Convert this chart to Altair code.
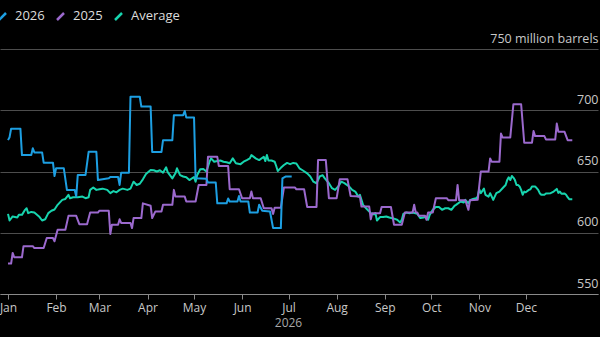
import altair as alt
import pandas as pd

# Day-of-year offsets (0 = Jan 1) and stock levels, million barrels
days_2026 = [0, 1, 2, 8, 9, 15, 16, 17, 22, 23, 29, 30, 31, 36, 38, 43, 44, 45, 50, 52,
             57, 58, 65, 66, 71, 72, 73, 78, 79, 85, 86, 92, 93, 99, 100, 106, 107, 113, 114, 115,
             120, 121, 128, 129, 134, 135, 141, 142, 143, 148, 149, 150, 155, 156, 161, 162, 164, 169, 171, 176,
             177, 179, 183]
vals_2026 = [675.6, 678, 685, 685, 663.4, 663.4, 669, 665.6, 665.6, 657.2, 657.2, 646.3, 652.6, 652.6, 635, 635, 629.5, 647.2, 647.2, 666.1,
             666.1, 643, 644.4, 645.5, 645.5, 639, 649, 649, 711, 711, 703, 703, 666, 666, 675.6, 675.6, 696, 696, 699.4, 694,
             694, 644.4, 644, 641, 641, 624, 624, 628, 625.5, 625.5, 630, 625.5, 625.5, 616.5, 616.5, 622.8, 618, 617.3, 603.8, 603.8,
             644.4, 645.9, 645.9]

days_2025 = [0, 2, 3, 4, 9, 10, 16, 17, 23, 25, 29, 30, 32, 37, 39, 44, 46, 51, 53, 58,
             59, 65, 66, 67, 71, 72, 73, 79, 80, 81, 86, 87, 92, 93, 95, 99, 100, 106, 107, 108,
             114, 115, 121, 123, 128, 129, 135, 136, 142, 143, 149, 151, 156, 157, 158, 163, 165, 170, 171, 172,
             176, 178, 185, 186, 191, 193, 199, 200, 205, 207, 212, 214, 219, 221, 227, 228, 233, 234, 235, 240,
             241, 247, 249, 254, 256, 261, 262, 263, 264, 265, 269, 270, 271, 274, 276, 283, 284, 289, 290, 291,
             295, 297, 298, 303, 305, 310, 311, 312, 317, 318, 319, 324, 326, 331, 333, 338, 339, 340, 346, 347,
             353, 354, 355, 359, 361, 364]
vals_2025 = [574.8, 574.8, 583.5, 580, 580, 589, 589, 587.5, 587.5, 595.7, 595.7, 593, 602.4, 602.4, 613.8, 613.8, 607, 607, 616.5, 616.5,
             618, 618, 599, 606.5, 606.5, 611, 608, 608, 603.8, 612, 612, 624, 622, 612, 617.3, 617.3, 622.8, 622.8, 635, 629.5,
             629.5, 625.5, 625.5, 639, 639, 662, 662, 654.5, 654.5, 635.5, 635.5, 628.2, 628.2, 633.6, 628.2, 628.2, 620, 620, 615.4, 620.5,
             620.5, 637, 637, 635.5, 635.5, 621, 621, 659.3, 659.3, 628.2, 628.2, 643.6, 643.6, 630, 629.5, 621.4, 621.4, 611, 616, 616,
             621, 621, 606.5, 606.5, 616.5, 616.5, 622.8, 616.5, 616.5, 613.8, 613.8, 610.6, 616.5, 616.5, 628.2, 628.2, 626.6, 626.6, 639, 626.6,
             626.6, 618.7, 626.6, 627, 650, 650, 660.7, 658, 658, 681, 677.8, 677.8, 704.9, 704.9, 673.5, 673.5, 683, 678.9, 678.9, 676.2,
             676.2, 689.1, 682.4, 682.4, 675.6, 675.6]

days_avg = [0, 1, 3, 6, 7, 9, 11, 12, 13, 15, 17, 20, 22, 24, 26, 28, 30, 32, 35, 37,
            39, 40, 42, 45, 48, 50, 52, 53, 55, 57, 59, 61, 64, 66, 68, 70, 72, 74, 77, 79,
            81, 83, 85, 87, 89, 92, 94, 96, 98, 100, 102, 103, 106, 108, 109, 111, 113, 115, 117, 120,
            121, 122, 124, 126, 128, 130, 131, 133, 135, 137, 139, 141, 143, 145, 147, 150, 152, 154, 156, 157,
            160, 162, 165, 166, 167, 168, 170, 172, 173, 174, 176, 178, 180, 182, 184, 186, 188, 190, 193, 195,
            197, 199, 200, 201, 203, 204, 207, 209, 211, 213, 215, 217, 220, 222, 224, 226, 227, 229, 231, 234,
            236, 237, 238, 240, 242, 244, 246, 249, 251, 253, 254, 255, 257, 259, 261, 264, 266, 268, 270, 271,
            272, 274, 276, 278, 280, 282, 284, 286, 288, 289, 292, 294, 295, 297, 298, 300, 302, 303, 304, 305,
            307, 308, 310, 311, 313, 315, 317, 319, 321, 322, 323, 324, 325, 326, 327, 328, 329, 330, 331, 332,
            333, 334, 336, 337, 338, 340, 341, 342, 343, 344, 346, 347, 350, 352, 354, 355, 356, 357, 359, 360,
            361, 362, 364]
vals_avg = [615.4, 610, 613.3, 612.5, 614.6, 614.6, 618.7, 620, 616, 617, 616.5, 613.3, 610, 611, 616, 618, 619, 622.8, 626.8, 627.6,
            630.9, 628.2, 629, 629, 629.5, 628.2, 629, 635, 637, 635, 635.5, 636, 635, 632.3, 634, 633, 635, 636, 635, 636,
            641.7, 639, 640, 643.6, 648, 651.2, 651, 650, 651, 649, 653.4, 649.5, 644.4, 648.5, 652.6, 647, 645.9, 645.3, 643, 645.5,
            641.7, 647, 651.8, 652, 650, 658, 660.7, 658, 658.5, 659, 658, 657.5, 656.7, 660.7, 656.7, 656, 658, 659.3, 660.7, 663.4,
            660.5, 659.3, 662, 658.5, 663.4, 659, 659, 658, 654.5, 650.4, 653, 655.3, 657, 656, 657, 656.5, 652.6, 651, 648.5, 645.9,
            641.7, 640.4, 643, 645.9, 647, 645, 640.4, 636.4, 635, 637.8, 641.7, 640.5, 637.8, 635, 633.6, 629.5, 631, 622.8, 620, 616,
            615, 616, 610, 612.8, 612.8, 613.3, 612.4, 611.5, 610.6, 608.4, 610.5, 615.4, 616.5, 616, 616.5, 615.4, 612, 612.5, 613.3, 610.6,
            614.6, 618.7, 621, 621, 618.7, 620, 620, 618.7, 622, 622.8, 625.5, 624.7, 626.8, 624, 626.5, 627.6, 628.2, 629.5, 635.5, 632.3,
            636, 631, 629.5, 632.3, 626.8, 632.3, 633.6, 636.3, 639, 643, 645.3, 643, 646.3, 645, 643, 639, 639, 637.8, 635, 631,
            633.6, 633, 635, 635.5, 637.7, 637.7, 636.5, 635, 632.3, 631, 631, 632, 632.3, 633.6, 635.8, 632.5, 633.6, 631.8, 632, 631,
            629, 627.4, 627.4]

series_names = ["2026", "2025", "Average"]
series_colors = ["#1d9fe2", "#9b69cd", "#17d4ae"]
y_ticks = [550, 600, 650, 700, 750]
month_ticks = [alt.DateTime(year=2026, month=m, date=1, utc=True) for m in range(1, 13)]

# Key along the top edge: where each label starts, in pixels from the plot's left edge
legend_label_x = [15, 73, 131]


def frame(name, days, vals):
    dates = pd.Timestamp("2026-01-01") + pd.to_timedelta(days, unit="D")
    return pd.DataFrame({"date": dates.strftime("%Y-%m-%d"), "barrels": vals, "series": name})


data = pd.concat([
    frame("Average", days_avg, vals_avg),
    frame("2025", days_2025, vals_2025),
    frame("2026", days_2026, vals_2026),
], ignore_index=True)

key = pd.DataFrame({"series": series_names, "lx": legend_label_x})
key["sx"] = key["lx"] - 16
key["sx2"] = key["lx"] - 9

color_scale = alt.Scale(domain=series_names, range=series_colors)

x_domain = [
    alt.DateTime(year=2025, month=12, date=26, hours=20, utc=True),
    alt.DateTime(year=2027, month=1, date=16, hours=14, utc=True),
]

lines = alt.Chart(data).mark_line(strokeWidth=2, strokeJoin="round").encode(
    x=alt.X(
        "date:T",
        scale=alt.Scale(type="utc", domain=x_domain),
        axis=alt.Axis(
            values=month_ticks, labelExpr="utcFormat(datum.value, '%b')", title="2026",
            titleX=288, titleAlign="center", titlePadding=4, titleFontSize=12,
            titleFontWeight="normal", titleColor="#a8a8a8",
            labelFontSize=12, labelColor="#c8c8c8", labelPadding=3,
            labelFlush=False, labelBound=False, labelOverlap=False,
            tickSize=5, tickColor="#8a8a8a", domainColor="#8a8a8a", grid=False,
        ),
    ),
    y=alt.Y(
        "barrels:Q",
        scale=alt.Scale(domain=[550, 750], nice=False, zero=False),
        axis=alt.Axis(
            orient="right", values=y_ticks, title=None,
            labelExpr="datum.value == 750 ? '750 million barrels' : datum.label",
            labelAlign="right", labelBaseline="alphabetic", labelPadding=0, labelOffset=-7,
            labelFontSize=12.5, labelColor="#c8c8c8", labelFlush=False, labelBound=False,
            ticks=False, domain=False, grid=True, gridColor="#4d4d4d", gridWidth=1,
        ),
    ),
    color=alt.Color("series:N", scale=color_scale, legend=None),
)

key_marks = alt.Chart(key).mark_rule(strokeWidth=2.5).encode(
    x=alt.X("sx:Q", scale=None, axis=None),
    x2="sx2:Q",
    y=alt.value(-29),
    y2=alt.value(-36),
    color=alt.Color("series:N", scale=color_scale, legend=None),
)

key_labels = alt.Chart(key).mark_text(
    align="left", baseline="middle", fontSize=13, color="#dcdcdc"
).encode(
    x=alt.X("lx:Q", scale=None, axis=None),
    y=alt.value(-33),
    text="series:N",
)

chart = alt.layer(lines, key_marks, key_labels).resolve_scale(
    x="independent"
).properties(
    width=598,
    height=245,
    background="#000000",
    padding={"left": 0, "top": 49, "right": 2, "bottom": 43},
    autosize=alt.AutoSizeParams(type="none"),
).configure(
    font="Open Sans",
).configure_view(
    stroke=None,
)

chart.save("out.html", embed_options={"renderer": "svg", "actions": False})
